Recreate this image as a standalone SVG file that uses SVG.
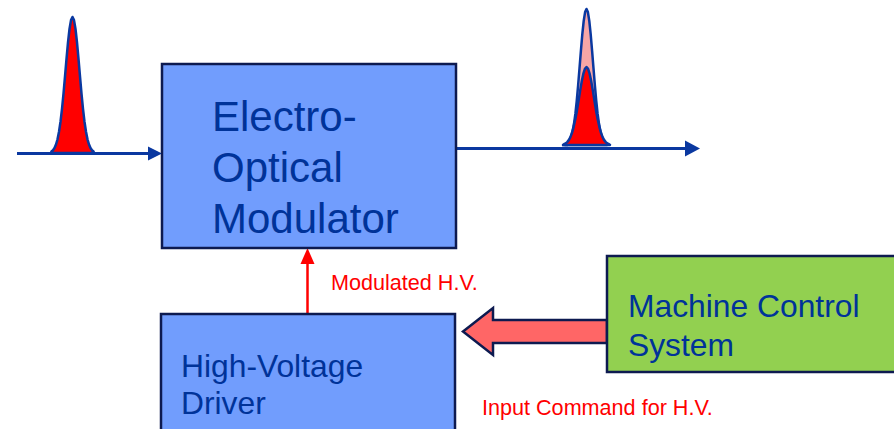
<svg xmlns="http://www.w3.org/2000/svg" width="894" height="429" viewBox="0 0 894 429">
<style>
.box{stroke:#0d1a50;stroke-width:2.5}
.blue{fill:#719dfd}
.green{fill:#92d050}
.lbl{font-family:"Liberation Sans",Arial,sans-serif;fill:#003399}
.red{font-family:"Liberation Sans",Arial,sans-serif;fill:#ff0000;font-size:21.6px}
.beam{stroke:#0a38a0;stroke-width:2.8;fill:none}
.pulse{stroke:#0a38a0;stroke-width:2.5;stroke-linejoin:round}
</style>
<rect width="894" height="429" fill="#ffffff"/>
<g id="connectors">
  <g id="input-beam">
    <line class="beam" x1="17" y1="153.5" x2="150" y2="153.5"/>
    <polygon points="148,146.5 162,153.5 148,160.5" fill="#0a38a0"/>
  </g>
  <g id="output-beam">
    <line class="beam" x1="456" y1="148.5" x2="687" y2="148.5"/>
    <polygon points="685,140.5 700,148.5 685,156.5" fill="#0a38a0"/>
  </g>
  <g id="modulated-hv">
    <line x1="307.5" y1="314" x2="307.5" y2="262" stroke="#ff0000" stroke-width="2.5"/>
    <polygon points="300.5,264 307.5,248 314.5,264" fill="#ff0000"/>
  </g>
  <g id="input-command">
    <polygon points="607,320 493,320 493,308 463,331.5 493,355 493,343 607,343" fill="#ff6666" stroke="#0d1a50" stroke-width="2.5"/>
  </g>
</g>
<g id="input-pulse">
  <polygon class="pulse" fill="#ff0000" points="51,153 51.5,151.5 53,150.2 54.5,148.0 56,144.5 57.5,139.3 59,131.8 60.5,121.7 62,108.8 63.5,93.6 65,76.4 66.5,58.8 68,42.4 69.5,29.0 71,20.1 72.5,17 74,20.1 75.5,29.0 77,42.4 78.5,58.8 80,76.4 81.5,93.6 83,108.8 84.5,121.7 86,131.8 87.5,139.3 89,144.5 90.5,148.0 92,150.2 93.5,151.5 94,153"/>
</g>
<g id="output-pulse">
  <polygon class="pulse" fill="#f7a6a6" points="565,145 567.0,143.5 568.4,142.2 569.8,140.0 571.2,136.5 572.6,131.3 574.0,123.8 575.4,113.7 576.75,100.8 578.1,85.6 579.5,68.4 580.9,50.8 582.3,34.4 583.7,21.0 585.1,12.1 586.5,9 587.9,12.1 589.3,21.0 590.7,34.4 592.1,50.8 593.5,68.4 594.9,85.6 596.25,100.8 597.6,113.7 599.0,123.8 600.4,131.3 601.8,136.5 603.2,140.0 604.6,142.2 606.0,143.5 607,145"/>
  <polygon class="pulse" fill="#ff0000" points="563,145 564.0,144.1 565.6,143.4 567.2,142.1 568.8,140.1 570.4,137.1 572.0,132.8 573.6,127.1 575.25,119.6 576.9,110.9 578.5,101.1 580.1,90.9 581.7,81.6 583.3,73.9 584.9,68.8 586.5,67 588.1,68.8 589.7,73.9 591.3,81.6 592.9,90.9 594.5,101.1 596.1,110.9 597.75,119.6 599.4,127.1 601.0,132.8 602.6,137.1 604.2,140.1 605.8,142.1 607.4,143.4 609.0,144.1 610,145"/>
  <line x1="562" y1="145.5" x2="568" y2="145.5" stroke="#0a38a0" stroke-width="1.5"/>
</g>
<g id="eom">
  <rect class="box blue" x="162" y="64" width="294" height="184"/>
  <text class="lbl" font-size="42"><tspan x="212" y="131">Electro-</tspan><tspan x="212" y="182">Optical</tspan><tspan x="212" y="233">Modulator</tspan></text>
</g>
<g id="hv-driver">
  <rect class="box blue" x="161" y="314" width="294" height="130"/>
  <text class="lbl" font-size="31.8"><tspan x="181" y="377">High-Voltage</tspan><tspan x="181" y="414">Driver</tspan></text>
</g>
<g id="machine-control">
  <rect class="box green" x="607" y="256" width="300" height="116"/>
  <text class="lbl" font-size="31.8"><tspan x="628" y="317">Machine Control</tspan><tspan x="628" y="356">System</tspan></text>
</g>
<text class="red" x="331" y="290">Modulated H.V.</text>
<text class="red" x="482" y="415">Input Command for H.V.</text>
</svg>
